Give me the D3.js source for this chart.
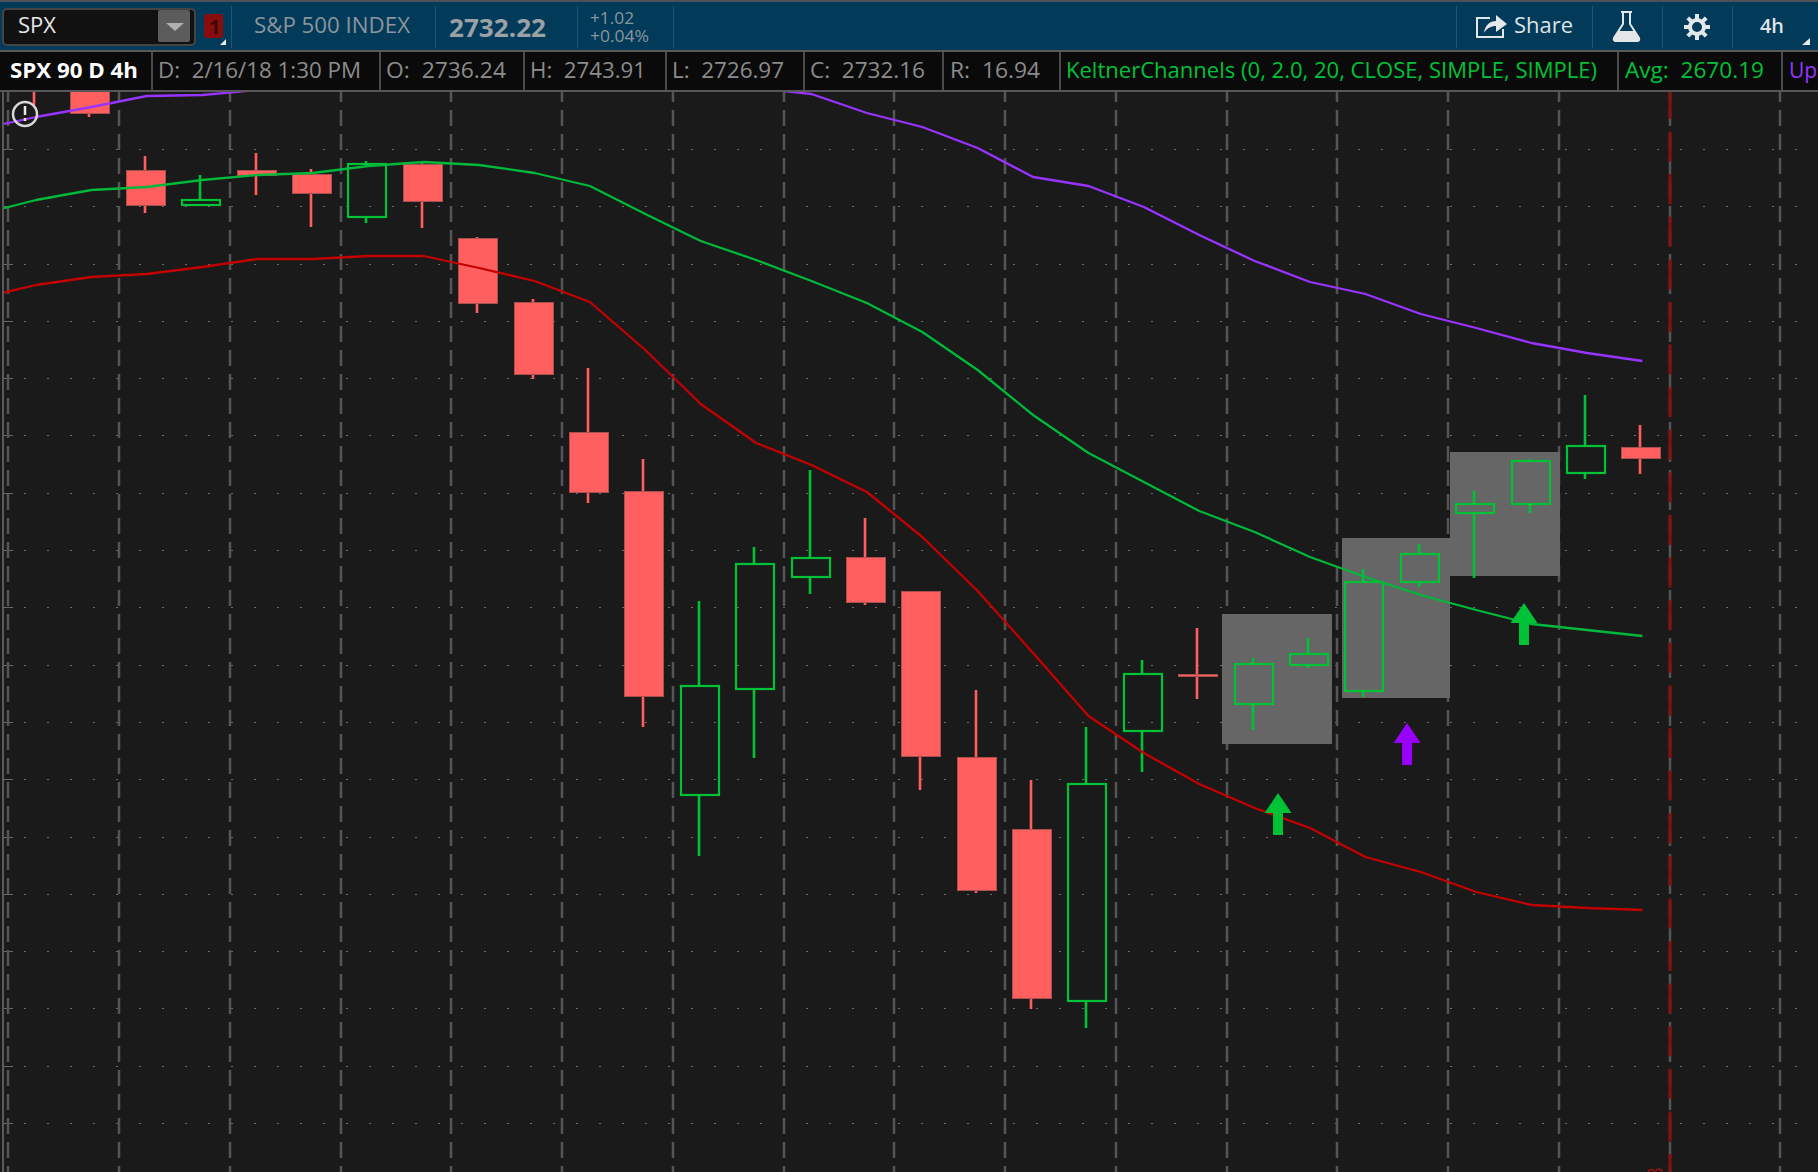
<!DOCTYPE html>
<html>
<head>
<meta charset="utf-8">
<script src="https://cdn.jsdelivr.net/npm/d3@7"></script>
<style>
html, body { margin: 0; padding: 0; background: #1a1a1a; overflow: hidden; }
svg { display: block; }
text { font-family: "Open Sans", sans-serif; }
</style>
</head>
<body>
<svg id="chart" width="1818" height="1172"></svg>
<script>
// candles, first one sits mostly above the visible area
let candleIndex = d3.range(-1, 29);
let opens  = [2870, 2866, 2833.1, 2820.7, 2833.1, 2831.7, 2816.6, 2835.2, 2809.4, 2787.1, 2741.7, 2720.8, 2615.0, 2652.0, 2691.1, 2697.8, 2685.9, 2628.0, 2602.9, 2543.1, 2637.3, 2657.2, 2646.5, 2660.3, 2651.3, 2689.1, 2713.4, 2716.3, 2727.3, 2736.24];
let highs  = [2875, 2868, 2837.8, 2831.3, 2839.1, 2833.5, 2836.3, 2835.4, 2809.5, 2788.1, 2763.8, 2732.3, 2682.6, 2701.5, 2728.2, 2711.4, 2686.0, 2651.4, 2620.1, 2638.7, 2661.9, 2673.0, 2662.6, 2669.5, 2693.9, 2702.3, 2721.0, 2732.1, 2754.6, 2743.91];
let lows   = [2855.6, 2851.5, 2818.0, 2820.7, 2824.4, 2813.1, 2814.5, 2812.6, 2783.1, 2760.2, 2716.9, 2638.7, 2593.4, 2627.6, 2685.0, 2681.3, 2616.5, 2580.8, 2540.3, 2533.4, 2622.8, 2648.5, 2637.4, 2659.1, 2649.2, 2687.5, 2690.5, 2713.4, 2725.2, 2726.97];
let closes = [2860.8, 2852.7, 2820.4, 2822.4, 2830.9, 2824.8, 2835.0, 2822.0, 2786.4, 2761.3, 2720.2, 2649.0, 2653.0, 2695.4, 2697.5, 2681.7, 2628.0, 2581.3, 2543.6, 2618.6, 2657.1, 2656.0, 2660.5, 2664.0, 2689.1, 2698.8, 2716.3, 2731.6, 2736.5, 2732.16];

// keltner bands start one bar further left
let bandIndex = d3.range(-2, 29);
let upperBand = [2847.2, 2851.6, 2854.9, 2858.7, 2859.2, 2861.0, 2862.1, 2865.7, 2868.5, 2871.1, 2869.8, 2867.8, 2865.5, 2865.3, 2861.6, 2859.7, 2852.9, 2848.1, 2840.7, 2830.7, 2827.3, 2820.0, 2810.2, 2801.2, 2793.8, 2789.6, 2782.6, 2777.7, 2772.7, 2769.2, 2766.5];
let midBand   = [2817.8, 2822.4, 2825.9, 2827.1, 2829.4, 2831.4, 2832.1, 2834.3, 2835.7, 2834.9, 2832.1, 2827.3, 2817.8, 2808.4, 2801.5, 2794.3, 2786.7, 2776.3, 2763.1, 2747.4, 2734.4, 2724.0, 2713.9, 2706.5, 2698.0, 2691.0, 2684.6, 2679.4, 2674.4, 2672.3, 2670.2];
let lowerBand = [2788.2, 2793.0, 2795.8, 2796.6, 2799.2, 2802.1, 2802.1, 2802.9, 2802.9, 2798.7, 2794.4, 2786.8, 2770.1, 2751.5, 2737.8, 2730.2, 2720.7, 2704.8, 2686.0, 2664.3, 2642.4, 2629.4, 2618.6, 2610.4, 2603.3, 2593.3, 2588.1, 2580.9, 2576.6, 2575.3, 2574.6];

// grey highlight boxes: [first bar, last bar, top price, bottom price]
let boxBars = [[20.43, 22.42], [22.59, 24.54], [24.54, 26.53]];
let boxPrices = [[2678.0, 2632.7], [2704.5, 2648.7], [2734.5, 2691.3]];

// signal arrows
let arrowBars = [21.44, 23.77, 25.88];
let arrowPrices = [2615.5, 2639.9, 2681.8];
let arrowColors = ["#00c236", "#9900ff", "#00c236"];

let priceTicks = d3.range(2500, 2841, 20);
let timeTicks = d3.range(-1.5, 31, 2);
let nowBar = 28.5;

let infoCells = [
    { label: "D:  2/16/18 1:30 PM", x: 158, w: 203 },
    { label: "O:  2736.24", x: 386, w: 120 },
    { label: "H:  2743.91", x: 530, w: 116 },
    { label: "L:  2726.97", x: 672, w: 112 },
    { label: "C:  2732.16", x: 810, w: 115 },
    { label: "R:  16.94", x: 950, w: 90 }
];
let infoSeps = [151, 379, 523, 665, 803, 942, 1059, 1617, 1781];
let headerSeps = [231, 435, 577, 673, 1456, 1592, 1662, 1732];

let width = 1818, height = 1172;
let plotTop = 92, plotLeft = 4;
let gridColor = "#555555", red = "#ff5f5f", green = "#00c236";

let svg = d3.select("#chart");
let x = d3.scaleLinear().domain([0, 28]).range([90.4, 1641.4]);
let timeX = d3.scaleLinear().domain([-1.5, 30.5]).range([8.3, 1780.3]);
let y = d3.scaleLinear().domain([2840, 2500]).rangeRound([150, 1124]);
let gridY = d3.scaleLinear().domain([2840, 2500]).rangeRound([149, 1123]);

svg.append("rect").attr("width", width).attr("height", height).attr("fill", "#1a1a1a");
svg.append("defs").append("clipPath").attr("id", "plot")
    .append("rect").attr("x", plotLeft).attr("y", plotTop)
    .attr("width", width - plotLeft).attr("height", height - plotTop);

let plot = svg.append("g").attr("clip-path", "url(#plot)");

// horizontal dotted grid
let hGrid = plot.append("g").attr("transform", "translate(13,0)")
    .call(d3.axisRight(gridY).tickValues(priceTicks).tickSize(width).tickFormat(""));
hGrid.select(".domain").remove();
hGrid.selectAll("line").attr("stroke", "#6a6a6a").attr("stroke-dasharray", "0 11 2 10").attr("x1", 0);

// small solid ticks on the left edge
let leftTicks = plot.append("g").attr("transform", "translate(4,0)")
    .call(d3.axisRight(gridY).tickValues(priceTicks).tickSize(9).tickFormat(""));
leftTicks.select(".domain").remove();
leftTicks.selectAll("line").attr("stroke", "#6a6a6a");

// vertical dashed grid
plot.append("g").selectAll("line").data(timeTicks).join("line")
    .attr("x1", d => Math.round(timeX(d))).attr("x2", d => Math.round(timeX(d)))
    .attr("y1", 86).attr("y2", height)
    .attr("stroke", gridColor).attr("stroke-width", 2.5).attr("stroke-dasharray", "16 8");

// red "now" line
plot.append("line")
    .attr("x1", Math.round(timeX(nowBar))).attr("x2", Math.round(timeX(nowBar)))
    .attr("y1", 89).attr("y2", height)
    .attr("stroke", "#8a1010").attr("stroke-width", 3).attr("stroke-dasharray", "30 12.6");

plot.append("text")
    .attr("transform", `translate(1663,1167) rotate(-90)`)
    .attr("text-anchor", "end").attr("font-size", 21).attr("fill", "#8b1414")
    .text("3");

// highlight boxes
plot.append("g").selectAll("rect").data(boxBars).join("rect")
    .attr("x", d => Math.round(x(d[0])))
    .attr("width", d => Math.round(x(d[1])) - Math.round(x(d[0])))
    .attr("y", (d, i) => y(boxPrices[i][0]))
    .attr("height", (d, i) => y(boxPrices[i][1]) - y(boxPrices[i][0]))
    .attr("fill", "#666666");

// candles
let candles = plot.append("g").selectAll("g").data(candleIndex).join("g");
candles.each(function(d, i) {
    let up = closes[i] >= opens[i];
    let top = y(Math.max(opens[i], closes[i]));
    let bottom = y(Math.min(opens[i], closes[i]));
    let cx = Math.round(x(d));
    let g = d3.select(this);
    // wick is split so it does not show through the hollow body
    [[y(highs[i]), top], [bottom, y(lows[i])]].forEach(w => {
        g.append("line")
            .attr("x1", cx - 1).attr("x2", cx - 1).attr("y1", w[0]).attr("y2", w[1])
            .attr("stroke", up ? green : red).attr("stroke-width", 2.6);
    });
    let body = g.append("rect");
    if (up) {
        body.attr("x", cx - 19).attr("width", 38)
            .attr("y", top).attr("height", bottom - top)
            .attr("fill", "none").attr("stroke", green).attr("stroke-width", 2.2);
    } else {
        body.attr("x", cx - 19.5).attr("width", 39)
            .attr("y", top + 0.5).attr("height", Math.max(bottom - top - 1, 1))
            .attr("fill", red).attr("stroke", "#a94f4f").attr("stroke-width", 1);
    }
});

// keltner lines
let bandLine = d3.line().x((d, i) => x(bandIndex[i]) + 1).y(d => y(d));
[[upperBand, "#9933ff"], [midBand, "#00b83a"], [lowerBand, "#c40000"]].forEach(b => {
    plot.append("path").datum(b[0])
        .attr("d", bandLine)
        .attr("fill", "none")
        .attr("stroke", b[1])
        .attr("stroke-width", 2.3)
        .attr("stroke-linejoin", "round");
});

// arrows
plot.append("g").selectAll("path").data(arrowBars).join("path")
    .attr("transform", (d, i) => `translate(${x(d)},${y(arrowPrices[i])})`)
    .attr("d", "M0,0L13.5,20L5,20L5,42L-5,42L-5,20L-13.5,20Z")
    .attr("fill", (d, i) => arrowColors[i]);

// warning badge
plot.append("circle").attr("cx", 25).attr("cy", 114).attr("r", 12)
    .attr("fill", "none").attr("stroke", "#d8d8d8").attr("stroke-width", 2.5);
plot.append("line").attr("x1", 25).attr("x2", 25).attr("y1", 106).attr("y2", 115)
    .attr("stroke", "#e8e8e8").attr("stroke-width", 2.5);
plot.append("line").attr("x1", 25).attr("x2", 25).attr("y1", 118).attr("y2", 121)
    .attr("stroke", "#e8e8e8").attr("stroke-width", 2.5);

// left edge of plot
svg.append("rect").attr("x", 2).attr("y", plotTop).attr("width", 2).attr("height", height - plotTop).attr("fill", "#5a5a5a");

// header band
let head = svg.append("g");
head.append("rect").attr("width", width).attr("height", 50).attr("fill", "#023a5a");
head.append("rect").attr("width", width).attr("height", 2).attr("fill", "#4d5256");
head.append("rect").attr("y", 50).attr("width", width).attr("height", 2).attr("fill", "#585858");
head.append("rect").attr("y", 52).attr("width", width).attr("height", 38).attr("fill", "#0a0a0a");
head.append("rect").attr("y", 90).attr("width", width).attr("height", 2).attr("fill", "#585858");

head.selectAll(".hsep").data(headerSeps).join("rect").attr("class", "hsep")
    .attr("x", d => d).attr("y", 6).attr("width", 1).attr("height", 42).attr("fill", "#1c5674");
head.selectAll(".isep").data(infoSeps).join("rect").attr("class", "isep")
    .attr("x", d => d).attr("y", 52).attr("width", 2).attr("height", 38).attr("fill", "#4a4a4a");

// symbol box
head.append("rect").attr("x", 3).attr("y", 9).attr("width", 192).attr("height", 36).attr("rx", 4)
    .attr("fill", "#111").attr("stroke", "#444").attr("stroke-width", 2);
head.append("rect").attr("x", 158).attr("y", 10).attr("width", 32).attr("height", 32).attr("rx", 2).attr("fill", "#5c5c5c");
head.append("path").attr("d", "M166,23L184,23L175,31Z").attr("fill", "#b0b0b0");
head.append("rect").attr("x", 204).attr("y", 14).attr("width", 19).attr("height", 24).attr("rx", 3).attr("fill", "#8a0d0d");
head.append("path").attr("d", "M220,45L226,39L226,45Z").attr("fill", "#e8e8e8");
head.append("path").attr("d", "M1802,45L1810,38L1810,45Z").attr("fill", "#e8e8e8");

function label(txt, px, base, size, color, weight, len) {
    let t = head.append("text").attr("x", px).attr("y", base)
        .attr("font-size", size).attr("fill", color).attr("font-weight", weight || 400)
        .attr("xml:space", "preserve").style("white-space", "pre").text(txt);
    if (len) t.attr("textLength", len).attr("lengthAdjust", "spacingAndGlyphs");
    return t;
}
label("SPX", 18, 33, 21, "#e6e6e6", 400, 38);
label("1", 209, 34, 20, "#3d0606", 700);
label("S&P 500 INDEX", 254, 33, 21, "#8c959b", 400, 156);
label("2732.22", 449, 37, 25, "#9ba1a5", 700, 97);
label("+1.02", 590, 24, 16, "#8c959b", 400, 44);
label("+0.04%", 590, 42, 16, "#8c959b", 400, 59);
label("Share", 1514, 33, 21, "#dfe3e5", 400, 59);
label("4h", 1760, 33, 20, "#dfe3e5", 600, 24);

label("SPX 90 D 4h", 10, 78, 21, "#ffffff", 700, 128);
infoCells.forEach(c => label(c.label, c.x, 78, 21, "#8c8c8c", 400, c.w));
label("KeltnerChannels (0, 2.0, 20, CLOSE, SIMPLE, SIMPLE)", 1066, 78, 21, "#00c236", 400, 531);
label("Avg:  2670.19", 1625, 78, 21, "#00c236", 400, 139);
label("Up", 1789, 78, 21, "#9933ff");

// share icon
head.append("path").attr("d", "M1490,18L1477,18L1477,37L1503,37L1503,29")
    .attr("fill", "none").attr("stroke", "#e4e7e9").attr("stroke-width", 2);
head.append("path").attr("d", "M1484,33C1485,25 1490,21 1496,21L1496,15L1507,24L1496,32L1496,26C1491,26 1487,28 1484,33Z")
    .attr("fill", "#e4e7e9");

// flask icon
head.append("path").attr("d", "M1621,12L1632,12M1623,13L1623,24L1614,38Q1613,41 1616,41L1637,41Q1640,41 1639,38L1630,24L1630,13")
    .attr("fill", "none").attr("stroke", "#e4e7e9").attr("stroke-width", 2);
head.append("path").attr("d", "M1618,31L1635,31L1639,38Q1640,41 1637,41L1616,41Q1613,41 1614,38Z").attr("fill", "#e4e7e9");

// gear icon
let gear = head.append("g").attr("transform", "translate(1697,27)");
gear.append("circle").attr("r", 7).attr("fill", "none").attr("stroke", "#e4e7e9").attr("stroke-width", 4);
gear.selectAll("line").data(d3.range(8)).join("line")
    .attr("x1", 0).attr("y1", -8).attr("x2", 0).attr("y2", -13)
    .attr("transform", d => `rotate(${d * 45})`)
    .attr("stroke", "#e4e7e9").attr("stroke-width", 4);
</script>
</body>
</html>
